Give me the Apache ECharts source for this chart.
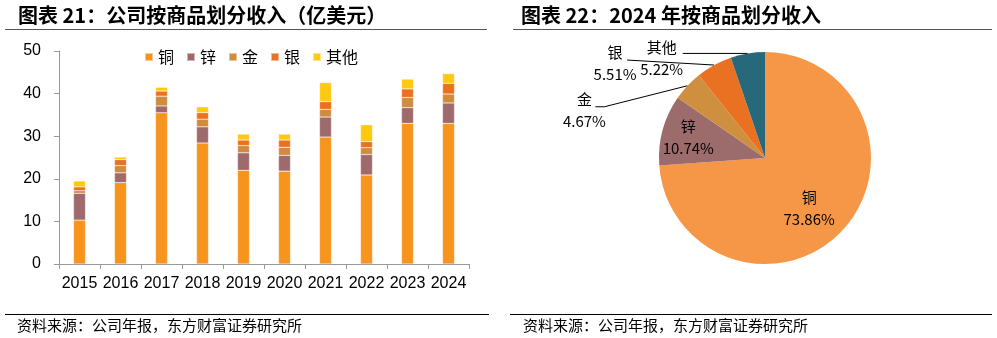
<!DOCTYPE html>
<html><head><meta charset="utf-8">
<script src="https://cdn.jsdelivr.net/npm/echarts@6/dist/echarts.min.js"></script>
<style>html,body{margin:0;padding:0;background:#fff}#c{width:997px;height:338px}</style>
</head><body><div id="c"></div>
<script>
const years = ['2015','2016','2017','2018','2019','2020','2021','2022','2023','2024'];
const seriesNames = ['铜','锌','金','银','其他'];
const copper = [10.3, 19.1, 35.5, 28.4, 22.0, 21.8, 29.8, 20.9, 33.0, 33.0];
const zinc   = [6.3, 2.3, 1.6, 3.8, 4.1, 3.7, 4.7, 4.8, 3.7, 4.8];
const gold   = [0.6, 1.7, 2.3, 1.8, 1.7, 1.9, 1.8, 1.6, 2.4, 2.1];
const silver = [0.9, 1.4, 1.2, 1.5, 1.3, 1.7, 1.8, 1.4, 2.0, 2.5];
const other  = [1.4, 0.6, 0.9, 1.4, 1.4, 1.4, 4.5, 4.0, 2.3, 2.3];
const pieValues = [73.86, 10.74, 4.67, 5.51, 5.22];
const yTicks = [0, 10, 20, 30, 40, 50];
const title1 = '图表 21：公司按商品划分收入（亿美元）';
const title2 = '图表 22：2024 年按商品划分收入';
const sourceText = '资料来源：公司年报，东方财富证券研究所';

const barColors = ['#F7941E', '#9E6A6C', '#D08B3D', '#EB7020', '#FFC910'];
const pieColors = ['#F59747', '#9C6B6B', '#CE8F3F', '#EA7121', '#27697A'];
const barData = [copper, zinc, gold, silver, other];
const cjk = '"Noto Sans CJK SC", sans-serif';
const latin = '"Liberation Sans", Arial, sans-serif';
const pieCenter = [765, 158];
const insideScale = {0: 1.2, 1: 1.42};

const chart = echarts.init(document.getElementById('c'), null, {renderer: 'canvas'});

const barSeries = seriesNames.map((n, i) => ({
  name: n, type: 'bar', stack: 'total', barWidth: 12,
  data: barData[i],
  itemStyle: {color: barColors[i], borderColor: 'rgba(255,255,255,0.5)', borderWidth: 0.5},
  emphasis: {disabled: true}
}));

const pieData = seriesNames.map((n, i) => {
  const d = {name: n, value: pieValues[i], itemStyle: {color: pieColors[i]}};
  if (i >= 2) {
    d.label = {position: 'outside'};
    d.labelLine = {show: true, length: 10, length2: 20, lineStyle: {color: '#000', width: 1}};
  } else {
    d.label = {position: 'inside'};
    d.labelLine = {show: false};
  }
  return d;
});

const option = {
  animation: false,
  graphic: [
    {type: 'text', left: 18, top: 5, style: {text: title1, font: 'bold 20px ' + cjk, fill: '#000'}},
    {type: 'text', left: 521, top: 5, style: {text: title2, font: 'bold 20px ' + cjk, fill: '#000'}},
    {type: 'line', shape: {x1: 5, y1: 29.5, x2: 487, y2: 29.5}, style: {stroke: '#555', lineWidth: 1.2}},
    {type: 'line', shape: {x1: 513, y1: 29.5, x2: 992, y2: 29.5}, style: {stroke: '#555', lineWidth: 1.2}},
    {type: 'line', shape: {x1: 5, y1: 314.5, x2: 489, y2: 314.5}, style: {stroke: '#000', lineWidth: 1}},
    {type: 'line', shape: {x1: 510, y1: 314.5, x2: 992, y2: 314.5}, style: {stroke: '#000', lineWidth: 1}},
    {type: 'text', left: 17, top: 318, style: {text: sourceText, font: '15px ' + cjk, fill: '#000'}},
    {type: 'text', left: 523, top: 318, style: {text: sourceText, font: '15px ' + cjk, fill: '#000'}}
  ],
  legend: {
    data: seriesNames, left: 144, top: 49, itemWidth: 8, itemHeight: 8, itemGap: 12,
    icon: 'rect', padding: 0,
    textStyle: {fontSize: 16, fontFamily: cjk, color: '#000'}
  },
  grid: {left: 59, right: 528, top: 51, bottom: 74, containLabel: false},
  xAxis: {
    type: 'category', data: years,
    axisLine: {lineStyle: {color: '#999'}},
    axisTick: {show: true, length: 5, alignWithLabel: false, lineStyle: {color: '#999'}},
    axisLabel: {fontSize: 16, fontFamily: latin, color: '#000', margin: 12, interval: 0}
  },
  yAxis: {
    type: 'value', min: yTicks[0], max: yTicks[yTicks.length - 1], interval: 10,
    axisLine: {show: true, lineStyle: {color: '#999'}},
    axisTick: {show: true, length: 5, lineStyle: {color: '#999'}},
    splitLine: {show: false},
    axisLabel: {fontSize: 16, fontFamily: latin, color: '#000', margin: 18}
  },
  series: barSeries.concat([{
    type: 'pie', center: pieCenter, radius: 106, startAngle: 90, clockwise: true,
    data: pieData,
    emphasis: {disabled: true},
    label: {
      formatter: p => p.name + '\n' + p.value.toFixed(2) + '%',
      fontSize: 15, lineHeight: 22, fontFamily: cjk, color: '#000', align: 'center'
    },
    labelLayout: function (params) {
      const i = params.dataIndex;
      const r = params.labelRect;
      if (i <= 1) {
        const cx = r.x + r.width / 2, cy = r.y + r.height / 2;
        const k = insideScale[i];
        let x = pieCenter[0] + (cx - pieCenter[0]) * k;
        let y = pieCenter[1] + (cy - pieCenter[1]) * k;
        if (i === 0) { x -= 5; y += 5; }
        return {x: x, y: y, align: 'center', verticalAlign: 'middle'};
      }
      const pts = params.labelLinePoints;
      if (!pts) return {};
      const p = pts[0];
      if (i === 4) {
        return {x: p[0] - 86, y: p[1] + 5, align: 'center', verticalAlign: 'middle',
          labelLinePoints: [p, [p[0] - 65, p[1]], [p[0] - 65, p[1]]]};
      }
      if (i === 3) {
        return {x: p[0] - 99, y: p[1] - 2, align: 'center', verticalAlign: 'middle',
          labelLinePoints: [p, [p[0] - 87, p[1] - 5], [p[0] - 87, p[1] - 5]]};
      }
      return {x: p[0] - 103, y: p[1] + 25, align: 'center', verticalAlign: 'middle',
        labelLinePoints: [p, [p[0] - 83, p[1] + 21], [p[0] - 92, p[1] + 21]]};
    }
  }])
};
chart.setOption(option);
</script></body></html>
